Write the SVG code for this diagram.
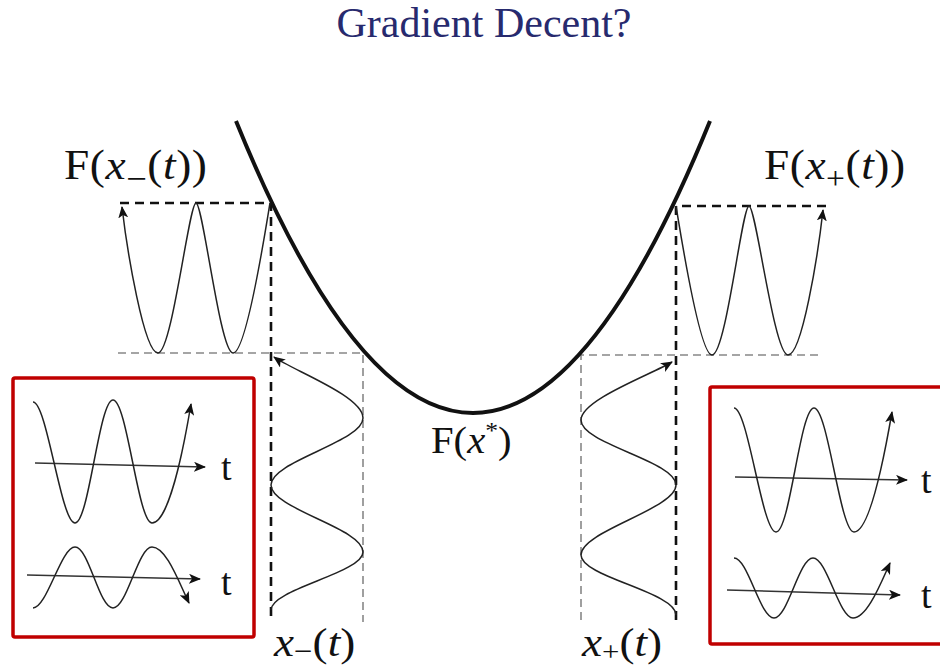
<svg xmlns="http://www.w3.org/2000/svg" width="940" height="669" viewBox="0 0 940 669">
<style>
.title{font-family:"Liberation Serif","Times New Roman",serif;font-size:42px;fill:#272a6e}
.lbl{font-family:"Liberation Serif","Times New Roman",serif;fill:#111}
.it{font-style:italic}
.curve{fill:none;stroke:#111;stroke-width:4}
.wave{fill:none;stroke:#222;stroke-width:1.5}
.axis{fill:none;stroke:#333;stroke-width:1.6}
.bdash{fill:none;stroke:#111;stroke-width:2.6;stroke-dasharray:9 6}
.gdash{fill:none;stroke:#888;stroke-width:1.6;stroke-dasharray:8 5}
.box{fill:none;stroke:#c00000;stroke-width:3.5}
</style>
<defs>
<marker id="ah" viewBox="0 0 12 10" refX="11" refY="5" markerWidth="12" markerHeight="10" markerUnits="userSpaceOnUse" orient="auto">
<path d="M0,0 L12,5 L0,10 L3,5 z" fill="#111"/>
</marker>
</defs>
<rect width="940" height="669" fill="#fff"/>
<text class="title" x="484" y="37" text-anchor="middle">Gradient Decent?</text>

<g id="connectors">
<path class="bdash" d="M120,203 H271 V616"/>
<path class="gdash" d="M118,353 H363 V622"/>
<path class="bdash" d="M826,206 H676 V623"/>
<path class="gdash" d="M818,355 H581 V622"/>
</g>

<g id="parabola">
<path class="curve" d="M236,121 Q473,705 710,121"/>
</g>

<g id="f-minus-wave">
<path class="wave" marker-end="url(#ah)" d="M270,203 C267,220 247,353 233,353 C220,353 203,203 196,203 C189,203 172,353 158,353 C144,353 127,250 122,207"/>
</g>
<g id="f-plus-wave">
<path class="wave" marker-end="url(#ah)" d="M676,206 C679,223 699,355 712,355 C726,355 742,206 749,206 C756,206 774,355 788,355 C802,355 818,255 823,210"/>
</g>

<g id="x-minus-wave">
<path class="wave" marker-end="url(#ah)" d="M271,610 C271,589 363,573 363,552 C363,528 271,509 271,485 C271,461 363,442 363,418 C363,396 292,370 274,357"/>
</g>
<g id="x-plus-wave">
<path class="wave" marker-end="url(#ah)" d="M676,615 C676,592 581,577 581,555 C581,531 676,509 676,485 C676,461 581,444 581,420 C581,400 650,375 672,362"/>
</g>

<g id="left-box">
<rect class="box" x="13" y="378" width="241" height="259" rx="2"/>
<path class="axis" marker-end="url(#ah)" d="M35,463 L205,467"/>
<path class="wave" marker-end="url(#ah)" d="M33,402 C47,402 61,523 75,523 C89,523 99,400 113,400 C127,400 138,523 152,523 C166,523 180,470 191,404"/>
<text class="lbl" x="221" y="480" font-size="38">t</text>
<path class="axis" marker-end="url(#ah)" d="M27,575 L200,579"/>
<path class="wave" marker-end="url(#ah)" d="M33,608 C47,608 61,547 75,547 C89,547 99,608 113,608 C127,608 138,547 152,547 C166,547 178,580 189,603"/>
<text class="lbl" x="221" y="595" font-size="38">t</text>
</g>

<g id="right-box">
<rect class="box" x="710" y="387" width="240" height="257" rx="2"/>
<path class="axis" marker-end="url(#ah)" d="M735,477 L907,480"/>
<path class="wave" marker-end="url(#ah)" d="M734,408 C748,408 762,532 776,532 C790,532 800,408 814,408 C828,408 840,532 854,532 C868,532 882,470 892,412"/>
<text class="lbl" x="921" y="493" font-size="38">t</text>
<path class="axis" marker-end="url(#ah)" d="M727,590 L900,595"/>
<path class="wave" marker-end="url(#ah)" d="M734,558 C748,558 760,618 774,618 C788,618 799,558 813,558 C827,558 839,618 853,618 C867,618 880,585 890,563"/>
<text class="lbl" x="921" y="608" font-size="38">t</text>
</g>

<g id="label-f-minus">
<text class="lbl" transform="translate(64,179) scale(1.08,1)" font-size="42" letter-spacing="0.5">F(<tspan class="it">x</tspan><tspan dy="11" font-size="34">−</tspan><tspan dy="-11">(</tspan><tspan class="it">t</tspan>))</text>
</g>
<g id="label-f-plus">
<text class="lbl" transform="translate(764,179) scale(1.08,1)" font-size="42" letter-spacing="0.5">F(<tspan class="it">x</tspan><tspan dy="10" font-size="31">+</tspan><tspan dy="-10">(</tspan><tspan class="it">t</tspan>))</text>
</g>
<g id="label-f-star">
<text class="lbl" transform="translate(431,453) scale(1.07,1)" font-size="38">F(<tspan class="it">x</tspan><tspan dy="-15" font-size="24">*</tspan><tspan dy="15">)</tspan></text>
</g>
<g id="label-x-minus">
<text class="lbl" transform="translate(274,656) scale(1.1,1)" font-size="41"><tspan class="it">x</tspan><tspan dy="5" font-size="30">−</tspan><tspan dy="-5">(</tspan><tspan class="it">t</tspan>)</text>
</g>
<g id="label-x-plus">
<text class="lbl" transform="translate(582,656) scale(1.1,1)" font-size="41"><tspan class="it">x</tspan><tspan dy="5" font-size="28">+</tspan><tspan dy="-5">(</tspan><tspan class="it">t</tspan>)</text>
</g>
</svg>
